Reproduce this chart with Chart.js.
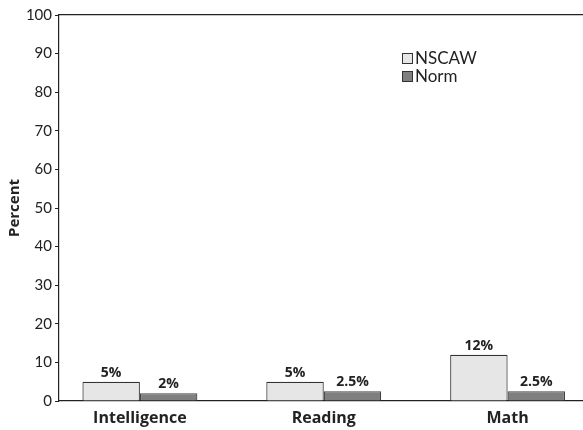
<!DOCTYPE html>
<html>
<head>
<meta charset="utf-8">
<script src="https://cdn.jsdelivr.net/npm/chart.js@4/dist/chart.umd.min.js"></script>
<style>
  body { margin: 0; background: #fff; }
  #wrap { width: 583px; height: 430px; }
</style>
</head>
<body>
<div id="wrap"><canvas id="chart" width="583" height="430"></canvas></div>
<script>
const categories = ['Intelligence', 'Reading', 'Math'];
const nscawValues = [5, 5, 12];
const normValues = [2, 2.5, 2.5];
const nscawLabels = ['5%', '5%', '12%'];
const normLabels = ['2%', '2.5%', '2.5%'];
const yTicks = [0, 10, 20, 30, 40, 50, 60, 70, 80, 90, 100];

const FONT = "'Lato', 'DejaVu Sans', sans-serif";
const BOLD = "'Open Sans', 'DejaVu Sans', sans-serif";

// value labels above each bar
const valueLabels = {
  id: 'valueLabels',
  afterDatasetsDraw(chart) {
    const ctx = chart.ctx;
    const texts = [nscawLabels, normLabels];
    ctx.save();
    ctx.font = 'bold 14px ' + BOLD;
    ctx.fillStyle = '#222';
    ctx.textAlign = 'center';
    ctx.textBaseline = 'bottom';
    chart.data.datasets.forEach((ds, i) => {
      chart.getDatasetMeta(i).data.forEach((bar, j) => {
        ctx.fillText(texts[i][j], bar.x, bar.y - 2);
      });
    });
    ctx.restore();
  }
};

// legend drawn inside the plot area
const innerLegend = {
  id: 'innerLegend',
  afterDraw(chart) {
    const ctx = chart.ctx;
    ctx.save();
    ctx.font = '17px ' + FONT;
    ctx.textBaseline = 'middle';
    chart.data.datasets.forEach((ds, i) => {
      let x = 402, y = 53 + i * 18;
      ctx.fillStyle = ds.backgroundColor;
      ctx.fillRect(x, y, 10, 10);
      ctx.strokeStyle = '#333';
      ctx.lineWidth = 1;
      ctx.strokeRect(x + 0.5, y + 0.5, 10, 10);
      ctx.fillStyle = '#222';
      ctx.fillText(ds.label, x + 13, y + 6);
    });
    ctx.restore();
  }
};

new Chart(document.getElementById('chart'), {
  type: 'bar',
  data: {
    datasets: [
      {
        label: 'NSCAW',
        data: nscawValues.map((v, i) => ({ x: i, y: v })),
        backgroundColor: '#e6e6e6',
        borderColor: '#333',
        borderWidth: 1.2
      },
      {
        label: 'Norm',
        data: normValues.map((v, i) => ({ x: i, y: v })),
        backgroundColor: '#7f7f7f',
        borderColor: '#444',
        borderWidth: 1.2
      }
    ]
  },
  options: {
    responsive: false,
    animation: false,
    layout: { padding: { left: 0, right: 0, top: 0, bottom: 0 } },
    datasets: { bar: { categoryPercentage: 0.625, barPercentage: 1 } },
    plugins: { legend: { display: false }, tooltip: { enabled: false } },
    scales: {
      x: {
        type: 'linear',
        offset: false,
        min: -0.44,
        max: 2.41,
        afterBuildTicks: s => { s.ticks = categories.map((c, i) => ({ value: i })); },
        afterFit: s => { s.height = 29; },
        ticks: {
          callback: v => categories[v],
          font: { family: BOLD, size: 16, weight: 'bold' },
          color: '#222',
          padding: 0,
          maxRotation: 0
        },
        grid: { display: false },
        border: { display: true, color: '#222', width: 1.2 }
      },
      xTop: {
        type: 'linear',
        position: 'top',
        min: 0,
        max: 1,
        afterFit: s => { s.height = 15; },
        ticks: { display: false },
        grid: { display: false },
        border: { display: true, color: '#222', width: 1.2 }
      },
      y: {
        min: 0,
        max: 100,
        afterBuildTicks: s => { s.ticks = yTicks.map(v => ({ value: v })); },
        afterFit: s => { s.width = 59; },
        title: {
          display: true,
          text: 'Percent',
          font: { family: BOLD, size: 15, weight: 'bold' },
          color: '#222',
          padding: { top: 6, bottom: 0 }
        },
        ticks: {
          font: { family: FONT, size: 15 },
          color: '#222',
          padding: 3
        },
        grid: { drawOnChartArea: false, tickLength: 4, color: '#222' },
        border: { display: true, color: '#222', width: 1.2 }
      }
    }
  },
  plugins: [valueLabels, innerLegend]
});
</script>
</body>
</html>
